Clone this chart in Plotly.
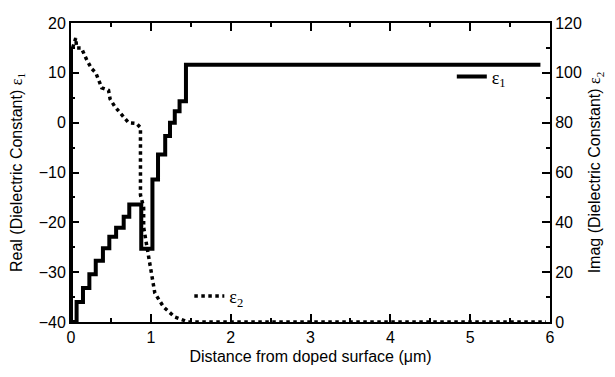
import plotly.graph_objects as go

# Real part eps1 (step profile, left axis)
eps1_x = [0.0, 0.0, 0.07, 0.15, 0.23, 0.31, 0.40, 0.48, 0.565, 0.66, 0.73, 0.88, 1.02, 1.09, 1.18, 1.24, 1.30, 1.36, 1.44, 5.88]
eps1_y = [15.0, -40.0, -36.0, -33.2, -30.4, -27.7, -25.2, -22.9, -21.1, -18.9, -16.4, -25.3, -11.4, -6.4, -2.7, 0.0, 2.3, 4.3, 11.6, 11.6]

# Imaginary part eps2 (right axis)
eps2_x = [0.02, 0.06, 0.07, 0.13, 0.20, 0.26, 0.31, 0.385, 0.47, 0.49, 0.55, 0.64, 0.72, 0.82, 0.87, 0.87, 0.91, 0.91, 0.99, 1.05, 1.16, 1.30, 1.47, 5.95]
eps2_y = [110, 114, 110, 110, 105, 101.6, 100, 94, 93, 89.5, 86.4, 83, 80, 79.7, 78, 51, 46, 38, 22, 11.6, 6, 2, 0, 0]

x_ticks = [0, 1, 2, 3, 4, 5, 6]

FONT = "Liberation Sans, Arial, sans-serif"
SERIF = "Liberation Serif, Times New Roman, serif"

fig = go.Figure()
fig.add_trace(go.Scatter(
    x=eps1_x, y=eps1_y, mode="lines", line=dict(color="black", width=4, shape="hv"),
    name="ε<sub>1</sub>", legend="legend", yaxis="y"))
fig.add_trace(go.Scatter(
    x=eps2_x, y=eps2_y, mode="lines", line=dict(color="black", width=3.5, dash="dot"),
    name="ε<sub>2</sub>", legend="legend2", yaxis="y2"))

axis_common = dict(
    showgrid=False, zeroline=False, showline=True, linecolor="black", linewidth=2,
    ticks="inside", ticklen=8, tickwidth=2, tickcolor="black", automargin=False,
    tickfont=dict(family=FONT, size=16, color="black"),
)

# page body has an 8px margin, so the figure is sized to fit the window
fig.update_layout(
    width=607, height=369,
    margin=dict(l=63, r=65, t=15, b=55),
    paper_bgcolor="white", plot_bgcolor="white",
    font=dict(family=FONT, color="black"),
    xaxis=dict(range=[0, 6], tickvals=x_ticks, mirror="ticks",
               minor=dict(dtick=0.5, ticks="inside", ticklen=4, tickwidth=2, tickcolor="black"),
               title=dict(text="Distance from doped surface (μm)", font=dict(size=16, color="black"), standoff=6),
               **axis_common),
    yaxis=dict(range=[-40, 20], dtick=10,
               minor=dict(dtick=5, ticks="inside", ticklen=4, tickwidth=2, tickcolor="black"),
               title=dict(text="Real (Dielectric Constant) <span style='font-family:Liberation Serif'>ε<sub>1</sub></span>",
                          font=dict(size=16, color="black"), standoff=12),
               **axis_common),
    yaxis2=dict(range=[0, 120], dtick=20, overlaying="y", side="right",
                minor=dict(dtick=10, ticks="inside", ticklen=4, tickwidth=2, tickcolor="black"),
                title=dict(text="Imag (Dielectric Constant) <span style='font-family:Liberation Serif'>ε<sub>2</sub></span>",
                           font=dict(size=16, color="black"), standoff=8),
                **axis_common),
    legend=dict(x=0.795, y=0.82, xanchor="left", yanchor="middle", bgcolor="rgba(0,0,0,0)",
                font=dict(family=SERIF, size=18, color="black"), itemwidth=30, tracegroupgap=0),
    legend2=dict(x=0.247, y=0.086, xanchor="left", yanchor="middle", bgcolor="rgba(0,0,0,0)",
                 font=dict(family=SERIF, size=18, color="black"), itemwidth=30, tracegroupgap=0),
    showlegend=True,
)

fig.write_html("out.html")
